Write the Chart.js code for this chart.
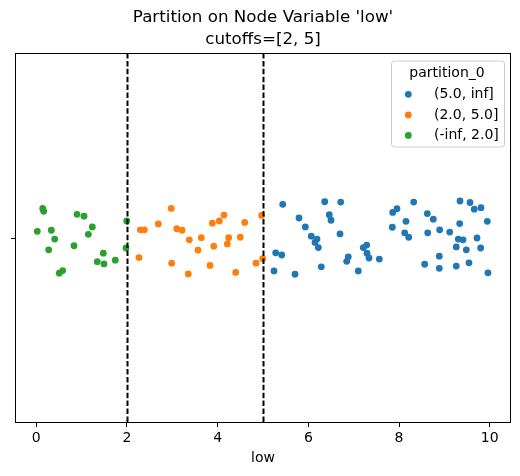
<!DOCTYPE html>
<html><head><meta charset="utf-8">
<script src="https://cdn.jsdelivr.net/npm/chart.js@4"></script>
<style>html,body{margin:0;padding:0;background:#fff}canvas{display:block}</style>
</head><body>
<canvas id="c" width="520" height="476"></canvas>
<script>
const titleLines = ["Partition on Node Variable 'low'", "cutoffs=[2, 5]"];
const xLabel = "low";
const legendTitle = "partition_0";
const seriesLabels = ["(5.0, inf]", "(2.0, 5.0]", "(-inf, 2.0]"];
const seriesColors = ["#1f77b4", "#ff7f0e", "#2ca02c"];
const cutoffs = [2, 5];
const xTicks = [0, 2, 4, 6, 8, 10];

// (5.0, inf]
const highX = [5.435,6.361,6.714,5.794,6.462,6.500,5.933,6.065,6.191,6.147,6.220,6.698,5.280,5.413,5.243,5.706,6.286,6.881,6.846,7.102,7.287,7.212,7.294,7.338,7.565,8.324,7.955,7.861,7.852,8.154,8.125,8.214,8.624,8.756,8.633,8.897,9.118,9.345,9.566,9.660,9.808,9.338,9.947,9.307,9.411,9.720,9.263,9.484,9.801,8.888,8.566,8.888,9.263,9.543,9.962];
const highJ = [0.091,0.098,0.097,0.054,0.063,0.048,0.030,0.005,-0.003,-0.012,-0.026,0.011,-0.040,-0.046,-0.089,-0.098,-0.078,-0.051,-0.063,-0.089,-0.019,-0.026,-0.041,-0.054,-0.057,0.097,0.079,0.069,0.029,0.045,0.014,0.002,0.066,0.051,0.014,0.022,0.016,0.100,0.096,0.078,0.082,0.039,0.045,-0.003,-0.005,0.000,-0.024,-0.032,-0.027,-0.049,-0.071,-0.082,-0.076,-0.067,-0.094];
// (2.0, 5.0]
const midX = [2.977,2.294,2.382,2.691,2.265,2.986,3.097,3.214,3.375,3.352,3.566,3.639,3.831,3.913,3.882,4.036,4.140,4.243,4.213,4.398,4.499,4.596,4.971,4.846,4.993];
const midJ = [0.080,0.022,0.022,0.038,-0.053,-0.068,0.025,0.021,-0.005,-0.097,-0.033,0.001,-0.074,-0.022,0.040,0.046,0.062,0.001,-0.016,-0.093,0.002,0.042,0.061,-0.068,-0.056];
// (-inf, 2.0]
const lowX = [0.141,0.163,0.022,0.331,0.406,0.273,0.898,1.052,1.235,1.147,0.831,0.507,0.582,1.478,1.345,1.493,1.742,1.994,1.978];
const lowJ = [0.080,0.072,0.018,0.021,-0.003,-0.032,0.064,0.059,0.030,0.010,-0.021,-0.095,-0.088,-0.041,-0.064,-0.070,-0.060,0.046,-0.027];

const FONT = "'DejaVu Sans', sans-serif";
const seriesX = [highX, midX, lowX];
const seriesJ = [highJ, midJ, lowJ];

const datasets = seriesLabels.map((lab, i) => ({
  label: lab,
  data: seriesX[i].map((x, k) => ({x: x, y: seriesJ[i][k]})),
  backgroundColor: seriesColors[i],
  borderColor: seriesColors[i],
  borderWidth: 0,
  pointRadius: 3.4,
  pointHoverRadius: 3.4
}));

const decor = {
  id: 'decor',
  afterDatasetsDraw(chart) {
    const ctx = chart.ctx, a = chart.chartArea, xs = chart.scales.x;
    ctx.save();
    // cutoff lines
    ctx.strokeStyle = '#000';
    ctx.lineWidth = 2;
    ctx.setLineDash([5.5, 2.4]);
    cutoffs.forEach(c => {
      const px = Math.round(xs.getPixelForValue(c)) + 0.5;
      ctx.beginPath(); ctx.moveTo(px, a.top); ctx.lineTo(px, a.bottom); ctx.stroke();
    });
    ctx.setLineDash([]);
    // frame
    ctx.lineWidth = 1;
    ctx.strokeRect(a.left + 0.5, a.top + 0.5, a.right - a.left - 1, a.bottom - a.top - 1);
    // title
    ctx.fillStyle = '#000';
    ctx.font = "16.7px " + FONT;
    ctx.textAlign = 'center'; ctx.textBaseline = 'middle';
    const cx = (a.left + a.right) / 2;
    ctx.fillText(titleLines[0], cx, 18);
    ctx.fillText(titleLines[1], cx, 40);
    // x label
    ctx.font = "14px " + FONT;
    ctx.fillText(xLabel, cx, 458);
    // legend
    const lx = 391, ly = 60.5, lw = 113, lh = 86;
    ctx.fillStyle = 'rgba(255,255,255,0.8)';
    ctx.strokeStyle = '#cccccc';
    ctx.lineWidth = 1;
    ctx.beginPath();
    ctx.roundRect(lx + 0.5, ly + 0.5, lw, lh, 3);
    ctx.fill(); ctx.stroke();
    ctx.fillStyle = '#000';
    ctx.font = "14px " + FONT;
    ctx.textAlign = 'center';
    ctx.fillText(legendTitle, 447, 73.5);
    ctx.textAlign = 'left';
    const rows = [94.3, 115, 135.5];
    seriesLabels.forEach((lab, i) => {
      ctx.fillStyle = seriesColors[i];
      ctx.beginPath(); ctx.arc(408.3, rows[i], 3.4, 0, Math.PI * 2); ctx.fill();
      ctx.fillStyle = '#000';
      ctx.fillText(lab, 434, rows[i]);
    });
    ctx.restore();
  }
};

new Chart(document.getElementById('c'), {
  type: 'scatter',
  data: { datasets },
  options: {
    responsive: false,
    animation: false,
    events: [],
    layout: { padding: { top: 53, right: 9, left: 0, bottom: 0 } },
    plugins: { legend: { display: false }, title: { display: false }, tooltip: { enabled: false } },
    scales: {
      x: {
        type: 'linear', min: -0.47, max: 10.47,
        afterBuildTicks: s => { s.ticks = xTicks.map(v => ({value: v})); },
        afterFit: s => { s.height = 53; },
        grid: { drawOnChartArea: false, drawTicks: true, tickLength: 4, color: '#000', tickColor: '#000' },
        border: { display: false },
        ticks: { color: '#000', font: { family: FONT, size: 14 }, padding: 3, maxRotation: 0, autoSkip: false,
                 callback: v => String(v) }
      },
      y: {
        type: 'linear', min: -0.5, max: 0.5,
        afterBuildTicks: s => { s.ticks = [{value: 0}]; },
        afterFit: s => { s.width = 15; },
        grid: { drawOnChartArea: false, drawTicks: true, tickLength: 4, color: '#000', tickColor: '#000' },
        border: { display: false },
        ticks: { callback: () => '', padding: 0 }
      }
    }
  },
  plugins: [decor]
});
</script>
</body></html>
